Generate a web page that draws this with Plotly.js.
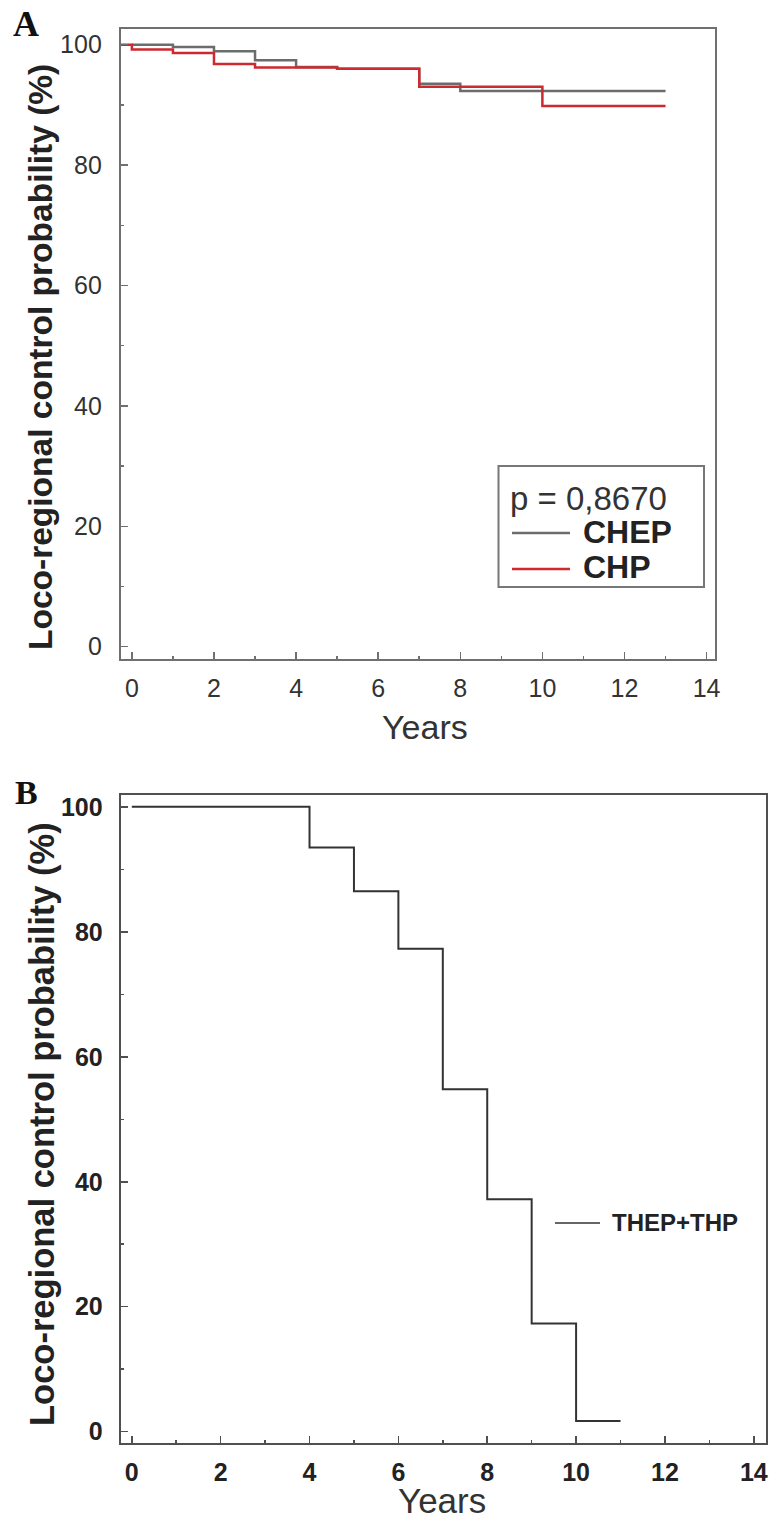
<!DOCTYPE html>
<html>
<head>
<meta charset="utf-8">
<script src="https://cdn.plot.ly/plotly-3.0.1.min.js"></script>
<style>html,body{margin:0;padding:0;background:#fff;}#chart{width:772px;height:1528px;}</style>
</head>
<body>
<div id="chart"></div>
<script>
// Panel A: Kaplan-Meier step data
const chepYears = [0, 1, 2, 3, 4, 5, 7, 8, 10, 13];
const chepProb  = [100, 99.6, 98.9, 97.4, 96.3, 96.0, 93.5, 92.3, 92.3, 92.3];
const chpYears  = [-0.27, 0, 1, 2, 3, 5, 7, 10, 13];
const chpProb   = [100, 99.2, 98.6, 96.8, 96.2, 96.0, 93.0, 89.8, 89.8];
// Panel B
const thepYears = [0, 4, 5, 6, 7, 8, 9, 10, 11];
const thepProb  = [100, 93.5, 86.5, 77.3, 54.8, 37.2, 17.3, 1.7, 1.7];
const yTicks = [0, 20, 40, 60, 80, 100];
const xTicks = [0, 2, 4, 6, 8, 10, 12, 14];
const pLabel = 'p = 0,8670';
const seriesA = ['CHEP', 'CHP'];
const seriesB = ['THEP+THP'];
const yTitle = 'Loco-regional control probability (%)';
const xTitle = 'Years';

const W = 772, H = 1528;
const fx = p => p / W, fy = p => 1 - p / H;
const GRAY = '#6c6c6c', RED = '#cc2a2e', DARK = '#333333';

const traces = [
  {x: chepYears, y: chepProb, name: seriesA[0], mode: 'lines', line: {shape: 'hv', color: GRAY, width: 2.5}, xaxis: 'x', yaxis: 'y'},
  {x: chpYears, y: chpProb, name: seriesA[1], mode: 'lines', line: {shape: 'hv', color: RED, width: 2.5}, xaxis: 'x', yaxis: 'y'},
  {x: thepYears, y: thepProb, name: seriesB[0], mode: 'lines', line: {shape: 'hv', color: DARK, width: 2}, xaxis: 'x2', yaxis: 'y2'}
];

const axA = {
  showgrid: false, zeroline: false, showline: true, mirror: true, linecolor: '#707070', linewidth: 2,
  ticks: 'inside', ticklen: 7, tickwidth: 1.5, tickcolor: '#707070'
};
const axB = Object.assign({}, axA, {linecolor: '#505050', tickcolor: '#505050'});

function ann(text, x, y, font, xanchor, angle) {
  return {text: text, x: fx(x), y: fy(y), xref: 'paper', yref: 'paper', xanchor: xanchor || 'left', yanchor: 'middle',
          showarrow: false, font: font, textangle: angle || 0};
}
function hline(x0, x1, y, color, width) {
  return {type: 'line', xref: 'paper', yref: 'paper', x0: fx(x0), x1: fx(x1), y0: fy(y), y1: fy(y), line: {color: color, width: width}};
}

const layout = {
  width: W, height: H, margin: {l: 0, r: 0, t: 0, b: 0},
  paper_bgcolor: '#fff', plot_bgcolor: '#fff', showlegend: false,
  font: {family: 'Liberation Sans, Arial, sans-serif', color: '#333'},
  xaxis: Object.assign({}, axA, {
    domain: [fx(120.8), fx(714.8)], range: [-0.27, 14.2], anchor: 'y',
    tickvals: xTicks, ticktext: xTicks.map(String), ticklabelstandoff: 6,
    tickfont: {size: 25, color: '#333'},
    minor: {dtick: 1, tick0: 0, ticks: 'inside', ticklen: 3, tickcolor: '#707070'}
  }),
  yaxis: Object.assign({}, axA, {
    domain: [fy(659), fy(29)], range: [-2.05, 102.6], anchor: 'x',
    tickvals: yTicks, ticktext: yTicks.map(String), ticklabelstandoff: 12,
    tickfont: {size: 25, color: '#333'},
    minor: {dtick: 10, tick0: 0, ticks: 'inside', ticklen: 3, tickcolor: '#707070'}
  }),
  xaxis2: Object.assign({}, axB, {
    domain: [fx(120.7), fx(765.8)], range: [-0.25, 14.27], anchor: 'y2',
    tickvals: xTicks, ticktext: xTicks.map(String), ticklabelstandoff: 6,
    tickfont: {size: 25, color: '#222', weight: 'bold'},
    minor: {dtick: 1, tick0: 0, ticks: 'inside', ticklen: 3, tickcolor: '#505050'}
  }),
  yaxis2: Object.assign({}, axB, {
    domain: [fy(1443.3), fy(795)], range: [-1.86, 101.9], anchor: 'x2',
    tickvals: yTicks, ticktext: yTicks.map(String), ticklabelstandoff: 11,
    tickfont: {size: 25, color: '#222', weight: 'bold'},
    minor: {dtick: 10, tick0: 0, ticks: 'inside', ticklen: 3, tickcolor: '#505050'}
  }),
  shapes: [
    {type: 'rect', xref: 'paper', yref: 'paper', x0: fx(498.5), x1: fx(704), y0: fy(587), y1: fy(466),
     line: {color: '#777', width: 2}, fillcolor: 'rgba(255,255,255,1)', layer: 'above'},
    hline(512, 570, 533, GRAY, 2.5),
    hline(512, 570, 569, RED, 2.5),
    hline(555, 600, 1223, DARK, 1.5)
  ],
  annotations: [
    ann('A', 11, 24, {family: 'Liberation Serif, Times New Roman, serif', size: 36, color: '#111', weight: 'bold'}),
    ann('B', 13, 792, {family: 'Liberation Serif, Times New Roman, serif', size: 34, color: '#111', weight: 'bold'}),
    ann(yTitle, 40, 357, {size: 33.5, color: '#222', weight: 'bold'}, 'center', -90),
    ann(yTitle, 42, 1124, {size: 34.5, color: '#222', weight: 'bold'}, 'center', -90),
    ann(xTitle, 425, 727, {size: 34, color: '#333'}, 'center'),
    ann(xTitle, 442, 1500, {size: 35, color: '#333'}, 'center'),
    ann(pLabel, 508, 499, {size: 33, color: '#333'}),
    ann(seriesA[0], 581, 532, {size: 32, color: '#222', weight: 'bold'}),
    ann(seriesA[1], 581, 567, {size: 32, color: '#222', weight: 'bold'}),
    ann(seriesB[0], 610, 1222, {size: 24, color: '#222', weight: 'bold'})
  ]
};

Plotly.newPlot('chart', traces, layout, {displayModeBar: false, staticPlot: true});
</script>
</body>
</html>
